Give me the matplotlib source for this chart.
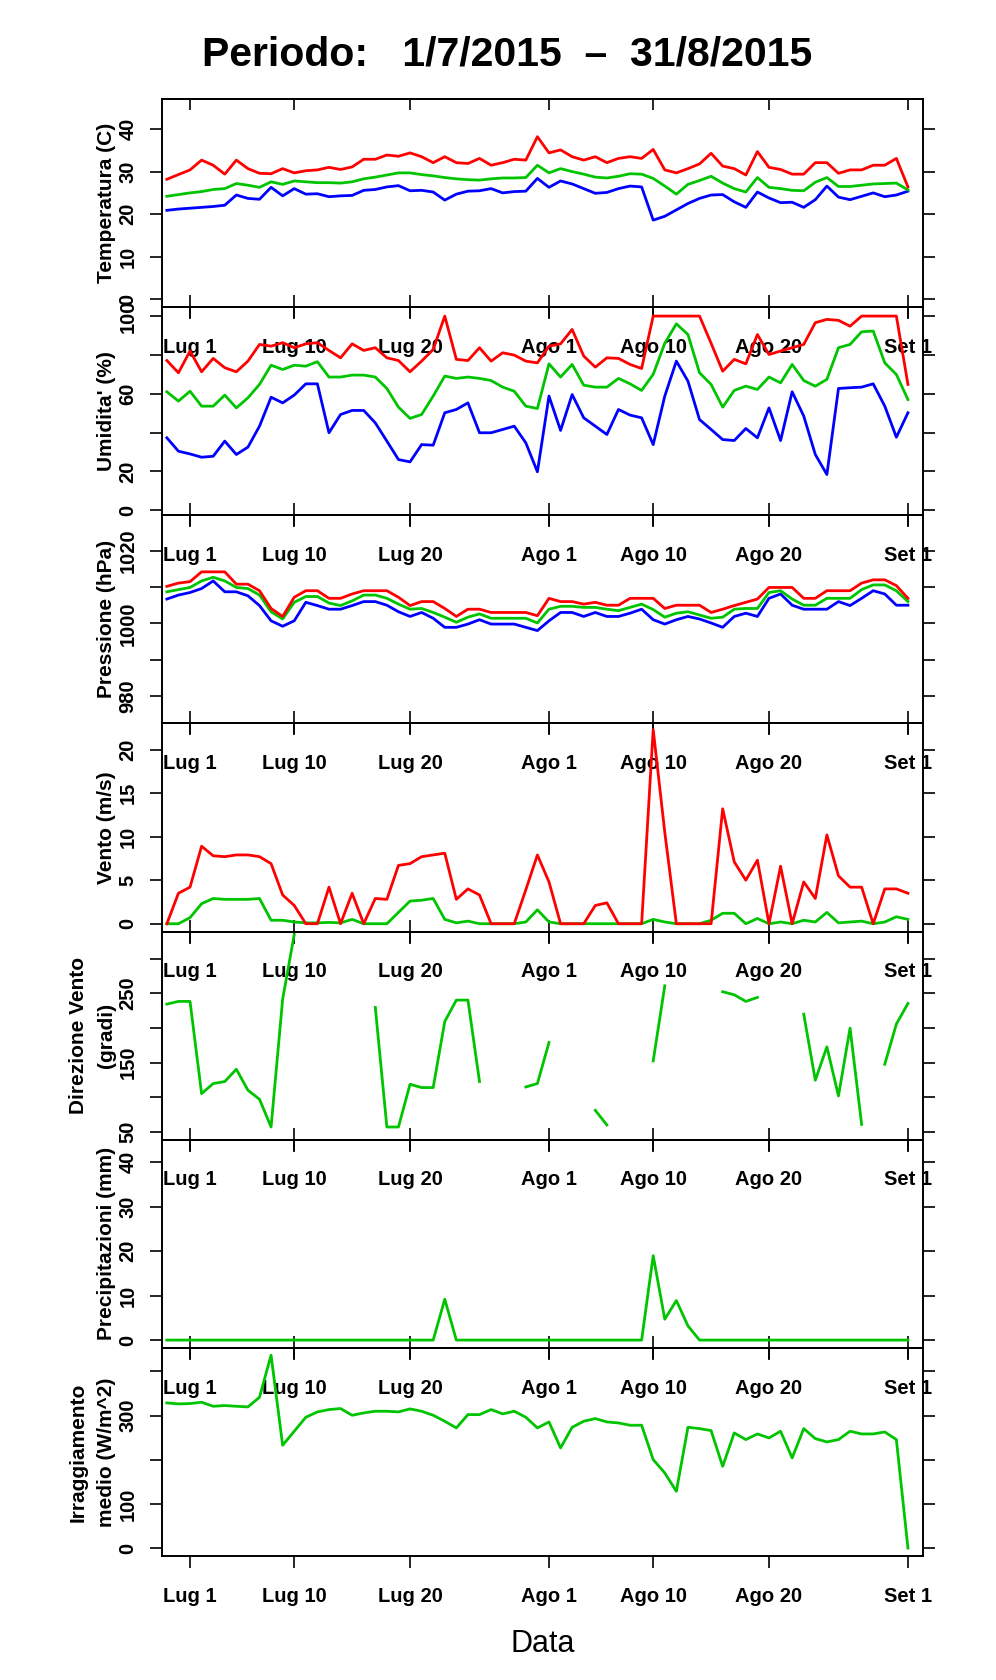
import numpy as np
import pandas as pd
import matplotlib
matplotlib.use("Agg")
import matplotlib.pyplot as plt
import matplotlib.dates as mdates

plt.rcParams['font.family'] = ['Liberation Sans', 'DejaVu Sans']
plt.rcParams['font.weight'] = 'bold'
plt.rcParams['axes.labelweight'] = 'bold'

nan = np.nan

# ---------------- data (daily, 29 Jun 2015 .. 1 Sep 2015) ----------------
dates = pd.date_range("2015-06-29", "2015-09-01", freq="D")

temp_max = [28.2, 29.3, 30.4, 32.7, 31.5, 29.4, 32.7, 30.7, 29.6, 29.5, 30.7, 29.7,
            30.2, 30.4, 31.0, 30.5, 31.1, 32.9, 32.9, 33.9, 33.6, 34.4,
            33.5, 32.1, 33.5, 32.1, 31.9, 33.1, 31.5, 32.1, 32.9, 32.7,
            38.2, 34.4, 35.1, 33.5, 32.7, 33.5, 32.1, 33.1, 33.5, 33.1,
            35.2, 30.4, 29.7, 30.7, 31.8, 34.3, 31.3, 30.7, 29.2, 34.7,
            31.0, 30.5, 29.4, 29.4, 32.1, 32.1, 29.6, 30.4, 30.4, 31.5,
            31.5, 33.1, 26.4]
temp_mean = [24.2, 24.6, 25.0, 25.3, 25.8, 26.0, 27.2, 26.8, 26.3, 27.6, 27.0, 27.8,
             27.6, 27.4, 27.4, 27.3, 27.6, 28.3, 28.7, 29.2, 29.7, 29.7,
             29.3, 29.0, 28.6, 28.3, 28.1, 28.0, 28.3, 28.5, 28.5, 28.6,
             31.5, 29.7, 30.7, 30.0, 29.4, 28.7, 28.5, 28.9, 29.5, 29.4,
             28.4, 26.6, 24.7, 27.0, 27.9, 28.9, 27.3, 26.0, 25.2, 28.6,
             26.3, 26.0, 25.6, 25.5, 27.5, 28.6, 26.5, 26.5, 26.8, 27.1,
             27.2, 27.3, 25.7]
temp_min = [20.9, 21.2, 21.4, 21.6, 21.8, 22.1, 24.5, 23.7, 23.5, 26.3, 24.3, 26.0,
            24.7, 24.8, 24.1, 24.3, 24.4, 25.6, 25.8, 26.4, 26.7, 25.5,
            25.6, 25.2, 23.3, 24.7, 25.4, 25.5, 26.0, 25.0, 25.3, 25.4,
            28.4, 26.3, 27.8, 27.1, 26.0, 24.9, 25.1, 26.0, 26.6, 26.4,
            18.6, 19.5, 21.0, 22.5, 23.7, 24.5, 24.6, 22.9, 21.6, 25.2,
            23.8, 22.7, 22.8, 21.6, 23.4, 26.6, 24.0, 23.4, 24.2, 25.0,
            24.1, 24.5, 25.4]

hum_max = [77.1, 70.8, 82.0, 71.3, 78.2, 73.4, 71.3, 76.8, 85.4, 84.5, 86.3, 83.7,
           85.7, 86.3, 82.3, 78.5, 85.7, 82.3, 83.7, 78.5, 77.1, 71.3,
           76.8, 82.8, 100.0, 77.7, 77.1, 83.7, 76.8, 81.1, 79.9, 76.8,
           75.9, 84.5, 85.7, 93.1, 79.4, 73.7, 78.5, 78.2, 75.1, 73.0,
           100.0, 100.0, 100.0, 100.0, 100.0, 86.0, 71.6, 77.7, 75.4, 90.5,
           80.2, 82.0, 83.7, 85.4, 96.6, 98.3, 97.8, 94.8, 100.0, 100.0,
           100.0, 100.0, 64.8]
hum_mean = [61.0, 56.2, 61.3, 53.6, 53.6, 59.3, 52.7, 57.9, 64.8, 74.7, 72.5, 74.7,
            74.2, 76.5, 68.6, 68.6, 69.6, 69.6, 68.6, 62.7, 53.1, 47.3,
            49.3, 58.8, 69.1, 67.9, 68.6, 67.9, 66.8, 63.4, 61.3, 53.6,
            52.4, 75.4, 68.6, 75.1, 64.4, 63.4, 63.4, 67.9, 65.1, 61.7,
            70.0, 86.0, 96.0, 90.5, 70.8, 64.8, 53.1, 61.7, 63.9, 62.2,
            68.6, 65.6, 75.1, 66.8, 63.9, 67.4, 83.7, 85.4, 91.9, 92.3,
            75.9, 69.9, 57.0]
hum_min = [37.3, 30.4, 29.0, 27.3, 27.8, 35.6, 28.7, 32.5, 43.3, 58.2, 55.3, 59.3,
           65.1, 65.1, 39.9, 49.3, 51.4, 51.4, 45.0, 35.6, 26.1, 24.9,
           33.8, 33.5, 50.2, 51.9, 55.3, 39.9, 39.9, 41.6, 43.3, 34.7,
           19.8, 58.8, 41.1, 59.6, 47.6, 43.3, 39.0, 51.9, 49.0, 47.6,
           33.8, 58.8, 76.8, 66.5, 46.7, 41.6, 36.4, 35.9, 42.1, 37.3,
           52.7, 35.9, 61.0, 48.5, 28.7, 18.4, 62.7, 63.1, 63.4, 65.1,
           53.6, 37.6, 50.2]

press_max = [1010.2, 1011.1, 1011.5, 1014.2, 1014.2, 1014.2, 1010.8, 1010.8, 1009.0, 1004.1, 1001.9, 1007.2,
             1009.0, 1009.0, 1006.9, 1006.9, 1008.1, 1009.0, 1009.0, 1009.0, 1007.2, 1004.9,
             1006.0, 1006.0, 1004.1, 1001.9, 1003.9, 1003.9, 1003.0, 1003.0, 1003.0, 1003.0,
             1002.1, 1006.9, 1006.0, 1006.0, 1005.3, 1005.8, 1005.0, 1005.0, 1006.9, 1006.9,
             1006.9, 1004.1, 1005.0, 1005.0, 1005.0, 1003.0, 1003.9, 1004.9, 1005.8, 1006.7,
             1009.9, 1009.9, 1009.9, 1006.9, 1006.9, 1009.0, 1009.0, 1009.0, 1011.1, 1012.0,
             1012.0, 1010.4, 1006.9]
press_mean = [1008.7, 1009.3, 1009.9, 1011.7, 1012.7, 1011.7, 1009.9, 1009.6, 1007.8, 1003.2, 1001.2, 1005.8,
              1007.4, 1007.4, 1005.6, 1004.9, 1006.2, 1007.8, 1007.8, 1006.9, 1005.3, 1003.9,
              1004.1, 1003.0, 1001.7, 1000.3, 1001.7, 1002.6, 1001.4, 1001.4, 1001.4, 1001.4,
              1000.1, 1003.9, 1004.7, 1004.7, 1004.4, 1004.4, 1003.9, 1003.5, 1004.4, 1005.3,
              1003.8, 1001.7, 1002.8, 1003.2, 1002.3, 1001.4, 1001.7, 1003.9, 1004.1, 1004.1,
              1008.5, 1009.0, 1006.7, 1005.0, 1005.0, 1006.9, 1006.9, 1006.9, 1009.3, 1010.6,
              1010.6, 1009.0, 1006.0]
press_min = [1006.7, 1007.8, 1008.5, 1009.6, 1011.7, 1008.7, 1008.7, 1007.6, 1004.9, 1000.7, 999.2, 1000.7,
             1005.8, 1004.9, 1003.9, 1003.9, 1004.9, 1006.0, 1006.0, 1005.0, 1003.2, 1001.9,
             1003.0, 1001.4, 998.9, 998.9, 999.8, 1001.0, 999.8, 999.8, 999.8, 998.9,
             998.0, 1000.7, 1003.0, 1003.0, 1001.9, 1003.0, 1001.9, 1001.9, 1002.8, 1003.9,
             1001.0, 999.8, 1001.0, 1001.9, 1001.2, 1000.1, 998.9, 1001.9, 1002.8, 1001.9,
             1006.9, 1008.1, 1005.0, 1003.9, 1003.9, 1003.9, 1006.0, 1004.9, 1006.9, 1009.0,
             1008.1, 1005.0, 1005.0]

wind_max = [0, 3.5, 4.2, 8.9, 7.8, 7.7, 7.9, 7.9, 7.7, 6.9, 3.3, 2.1,
            0, 0, 4.2, 0, 3.5, 0, 2.9, 2.8, 6.7, 6.9,
            7.7, 7.9, 8.1, 2.8, 4.0, 3.3, 0, 0, 0, 3.9,
            7.9, 4.8, 0, 0, 0, 2.1, 2.4, 0, 0, 0,
            22.3, 10.5, 0, 0, 0, 0, 13.2, 7.1, 5.0, 7.3,
            0, 6.6, 0, 4.8, 2.9, 10.2, 5.5, 4.2, 4.2, 0,
            4.0, 4.0, 3.5]
wind_mean = [0, 0, 0.7, 2.3, 2.9, 2.8, 2.8, 2.8, 2.9, 0.4, 0.4, 0.2,
             0.1, 0.1, 0.15, 0.1, 0.5, 0, 0, 0, 1.3, 2.6,
             2.7, 2.9, 0.5, 0.1, 0.3, 0, 0, 0, 0, 0.2,
             1.6, 0.2, 0, 0, 0, 0, 0, 0, 0, 0,
             0.5, 0.2, 0, 0, 0, 0.4, 1.2, 1.2, 0, 0.6,
             0, 0.2, 0, 0.4, 0.2, 1.3, 0.1, 0.2, 0.3, 0,
             0.2, 0.8, 0.5]

wind_dir = [234.5, 238.4, 238.4, 105.0, 119.6, 122.5, 140.3, 110.0, 96.9, 56.8, 241.8, 335.0,
            nan, nan, nan, nan, nan, nan, 229.7, 56.8, 56.8, 118.6,
            113.8, 113.8, 209.4, 240.3, 240.3, 122.5, nan, nan, nan, 114.7,
            119.6, 179.0, nan, nan, nan, 80.9, 59.7, nan, nan, nan,
            152.4, 261.0, nan, nan, nan, nan, 252.4, 248.0, 238.4, 244.2,
            nan, nan, nan, 220.0, 124.4, 172.7, 101.7, 199.8, 60.6, nan,
            147.6, 205.6, 235.5]

precip = [0, 0, 0, 0, 0, 0, 0, 0, 0, 0, 0, 0,
          0, 0, 0, 0, 0, 0, 0, 0, 0, 0,
          0, 0, 9.2, 0, 0, 0, 0, 0, 0, 0,
          0, 0, 0, 0, 0, 0, 0, 0, 0, 0,
          19.0, 4.7, 8.9, 3.2, 0, 0, 0, 0, 0, 0,
          0, 0, 0, 0, 0, 0, 0, 0, 0, 0,
          0, 0, 0]

irradiance = [328.8, 326.5, 327.3, 330.3, 321.2, 322.8, 321.2, 319.7, 341.6, 436.9, 232.8, 264.6,
              296.3, 308.4, 313.7, 316.0, 300.8, 306.1, 309.9, 309.9, 308.4, 315.2,
              309.9, 300.8, 287.2, 272.1, 302.3, 302.3, 313.7, 303.9, 309.9, 296.3,
              272.1, 285.7, 226.8, 273.6, 287.2, 293.3, 285.7, 283.4, 278.2, 278.2,
              200.3, 170.1, 128.5, 273.6, 270.6, 266.1, 185.2, 260.8, 245.7, 258.5,
              249.4, 264.6, 204.1, 270.6, 247.9, 240.4, 245.7, 264.6, 258.5, 258.5,
              263.0, 245.7, 0.0]

xtick_dates = pd.to_datetime(["2015-07-01", "2015-07-10", "2015-07-20", "2015-08-01",
                              "2015-08-10", "2015-08-20", "2015-09-01"])
xtick_labels = ["Lug 1", "Lug 10", "Lug 20", "Ago 1", "Ago 10", "Ago 20", "Set 1"]

title_text = "Periodo:   1/7/2015  \u2013  31/8/2015"

for arr in [temp_max, temp_mean, temp_min, hum_max, hum_mean, hum_min, press_max,
            press_mean, press_min, wind_max, wind_mean, wind_dir, precip, irradiance]:
    assert len(arr) == len(dates), len(arr)

# ---------------- styling ----------------
RED, GREEN, BLUE = "#FF0000", "#00C400", "#0000FF"
LW = 2.0

panels = [
    dict(series=[(temp_min, BLUE), (temp_mean, GREEN), (temp_max, RED)],
         ylim=(-1.85, 47.06), yticks=[0, 10, 20, 30, 40],
         ylabels=["0", "10", "20", "30", "40"], label="Temperatura (C)"),
    dict(series=[(hum_min, BLUE), (hum_mean, GREEN), (hum_max, RED)],
         ylim=(-2.6, 104.6), yticks=[0, 20, 40, 60, 80, 100],
         ylabels=["0", "20", "", "60", "", "100"], label="Umidita' (%)"),
    dict(series=[(press_min, BLUE), (press_mean, GREEN), (press_max, RED)],
         ylim=(972.4, 1029.8), yticks=[980, 990, 1000, 1010, 1020],
         ylabels=["980", "", "1000", "", "1020"], label="Pressione (hPa)"),
    dict(series=[(wind_mean, GREEN), (wind_max, RED)],
         ylim=(-0.9, 23.0), yticks=[0, 5, 10, 15, 20],
         ylabels=["0", "5", "10", "15", "20"], label="Vento (m/s)"),
    dict(series=[(wind_dir, GREEN)],
         ylim=(38.4, 339.4), yticks=[50, 100, 150, 200, 250, 300],
         ylabels=["50", "", "150", "", "250", ""], label="Direzione Vento\n(gradi)"),
    dict(series=[(precip, GREEN)],
         ylim=(-1.75, 45.1), yticks=[0, 10, 20, 30, 40],
         ylabels=["0", "10", "20", "30", "40"], label="Precipitazioni (mm)"),
    dict(series=[(irradiance, GREEN)],
         ylim=(-18.0, 453.5), yticks=[0, 100, 200, 300, 400],
         ylabels=["0", "100", "", "300", ""], label="Irraggiamento\nmedio (W/m^2)"),
]

W, H = 996, 1680
fig = plt.figure(figsize=(W / 100, H / 100), dpi=100)
left_px, right_px = 162, 923
top_px, bottom_px = 99, 1556
ph = (bottom_px - top_px) / len(panels)

x0 = mdates.date2num(pd.Timestamp("2015-07-01")) - 2.42
x1 = mdates.date2num(pd.Timestamp("2015-09-01")) + 1.3
xt = mdates.date2num(xtick_dates)

for k, p in enumerate(panels):
    ptop = top_px + k * ph
    ax = fig.add_axes([left_px / W, 1 - (ptop + ph) / H, (right_px - left_px) / W, ph / H])
    ax.set_facecolor("none")
    for vals, col in p["series"]:
        ax.plot(dates, vals, color=col, lw=LW, solid_joinstyle="round")
    ax.set_xlim(x0, x1)
    ax.set_ylim(*p["ylim"])
    ax.set_xticks(xt, xtick_labels)
    ax.set_yticks(p["yticks"], p["ylabels"])
    last = (k == len(panels) - 1)
    ax.tick_params(axis="x", bottom=True, top=False,
                   direction="out" if last else "inout",
                   length=8.6 if last else 17.2, width=1.2,
                   labelsize=14.5, pad=13.5, labelbottom=True)
    ax.tick_params(axis="y", left=True, right=True, direction="out",
                   length=8.6, width=1.2, labelsize=14.5, pad=9,
                   labelleft=True, labelright=False, labelrotation=90)
    for lbl in ax.get_yticklabels():
        lbl.set_va("center")
    sec = ax.secondary_xaxis("top")
    sec.set_xticks(xt)
    sec.tick_params(axis="x", direction="in", length=8, width=1.2, labeltop=False)
    for s in ax.spines.values():
        s.set_linewidth(1.4)
    sec.spines["top"].set_linewidth(1.4)
    ax.set_ylabel(p["label"], fontsize=15, labelpad=2, linespacing=1.6)
    if last:
        ax.set_xlabel("Data", fontsize=22, fontweight="normal", labelpad=16.6)

fig.suptitle(title_text, x=507 / W, y=1 - 65 / H, va="baseline",
             fontsize=29.5, fontweight="bold")

fig.savefig("out.png", dpi=100)
